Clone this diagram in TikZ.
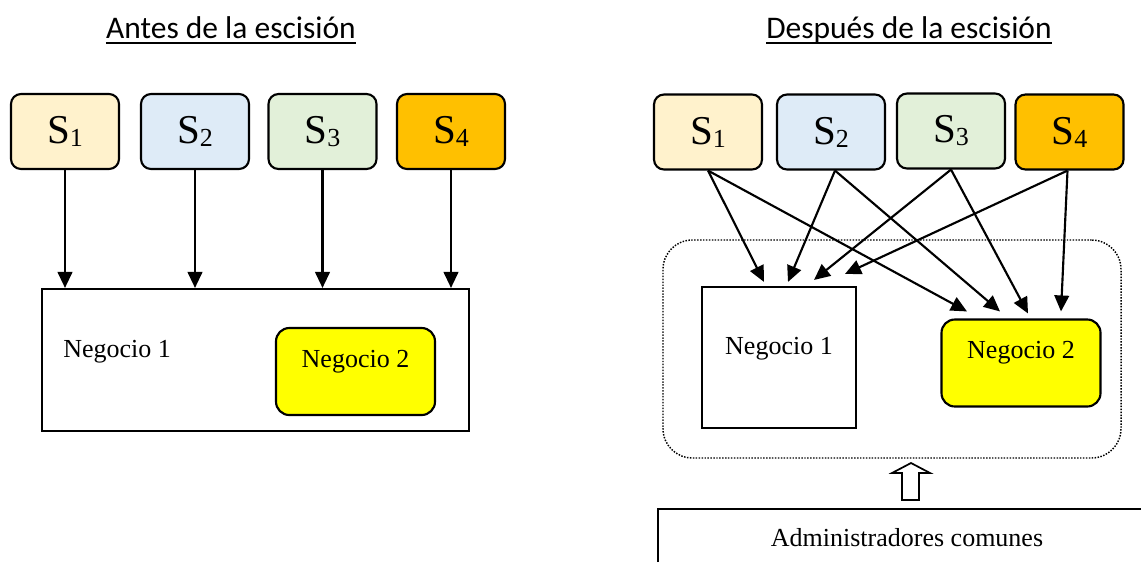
\documentclass[tikz,border=0pt]{standalone}
\usepackage{fontspec}
\setmainfont{Liberation Serif}
\newfontfamily\titlefont{Carlito}
\usetikzlibrary{arrows.meta}

\definecolor{socioa}{HTML}{FFF2CC}
\definecolor{sociob}{HTML}{DEEBF7}
\definecolor{socioc}{HTML}{E2F0D9}
\definecolor{sociod}{HTML}{FFC000}
\definecolor{amarillo}{HTML}{FFFF00}

% S con subindice
\newcommand{\soc}[1]{S\raisebox{-2.2pt}{\fontsize{19.5}{20}\selectfont #1}}

\tikzset{
  titulo/.style={anchor=base, inner sep=0pt, font=\titlefont\fontsize{23.6}{28}\selectfont},
  texto/.style={font=\fontsize{19.5}{23}\selectfont},
  socio/.style={draw, line width=1.6pt, rounded corners=7.5pt, inner sep=0pt,
    minimum width=108*\px, minimum height=75*\px, font=\fontsize{30.75}{36}\selectfont},
  caja/.style={draw, line width=1.6pt, texto},
  negocio/.style={draw, line width=1.6pt, fill=amarillo, rounded corners=10pt, texto,
    minimum width=159*\px, minimum height=87*\px, text height=18*\px, text depth=27*\px},
  flecha/.style={line width=1.6pt, -{Triangle[length=12pt, width=11pt]}}
}

\begin{document}
\begin{tikzpicture}[x=0.75pt, y=-0.75pt]
  \def \px {0.75pt}
  \useasboundingbox (0,0) rectangle (1141,562);

  % titulos
  \node[titulo] (antes) at (231,38) {Antes de la escisión};
  \node[titulo] (despues) at (909,38) {Después de la escisión};
  \draw[line width=1.6pt] ([yshift=-5*\px]antes.base west) -- ([yshift=-5*\px]antes.base east);
  \draw[line width=1.6pt] ([yshift=-5*\px]despues.base west) -- ([yshift=-5*\px]despues.base east);

  % antes: una sola sociedad
  \node[socio, fill=socioa] (ls1) at (65,131.5) {\soc{1}};
  \node[socio, fill=sociob] (ls2) at (195,131.5) {\soc{2}};
  \node[socio, fill=socioc] (ls3) at (322.5,131.5) {\soc{3}};
  \node[socio, fill=sociod] (ls4) at (451,131.5) {\soc{4}};

  \node[caja, minimum width=427*\px, minimum height=142*\px] (lsoc) at (255.5,360) {};
  \node[texto, anchor=base west, inner sep=0pt] (ln1) at (63,357) {Negocio 1};
  \node[negocio] (ln2) at (355.5,371.5) {Negocio 2};

  \foreach \s in {ls1,ls2,ls3,ls4}
    \draw[flecha] (\s.south) -- (\s.south |- lsoc.north);

  % despues: dos sociedades
  \node[socio, fill=socioa] (rs1) at (708,132) {\soc{1}};
  \node[socio, fill=sociob] (rs2) at (831,132) {\soc{2}};
  \node[socio, fill=socioc] (rs3) at (951,131) {\soc{3}};
  \node[socio, fill=sociod] (rs4) at (1069.5,132) {\soc{4}};

  \node[draw, dash pattern=on 1.1pt off 1.1pt, line width=1.1pt, rounded corners=22pt,
    minimum width=458*\px, minimum height=218*\px] (grupo) at (892,349) {};
  \node[caja, minimum width=154*\px, minimum height=141*\px,
    text height=18*\px, text depth=25*\px] (rn1) at (779,357.5) {Negocio 1};
  \node[negocio] (rn2) at (1021,363) {Negocio 2};

  \draw[flecha] (rs1.south) -- ([xshift=-15*\px, yshift=4*\px]rn1.north);
  \draw[flecha] (rs1.south) -- ([xshift=-54*\px, yshift=7*\px]rn2.north);
  \draw[flecha] ([xshift=4*\px]rs2.south) -- ([xshift=9*\px, yshift=4*\px]rn1.north);
  \draw[flecha] ([xshift=4*\px]rs2.south) -- ([xshift=-21*\px, yshift=7*\px]rn2.north);
  \draw[flecha] (rs3.south) -- ([xshift=35*\px, yshift=6*\px]rn1.north);
  \draw[flecha] (rs3.south) -- ([xshift=7*\px, yshift=5*\px]rn2.north);
  \draw[flecha] ([xshift=-2*\px]rs4.south) -- ([xshift=66*\px, yshift=12*\px]rn1.north);
  \draw[flecha] ([xshift=-2*\px]rs4.south) -- ([xshift=40*\px, yshift=7*\px]rn2.north);

  % administradores comunes
  \draw[line width=1.3pt] (911,463) -- (930,473) -- (919,473) -- (919,500)
    -- (902,500) -- (902,473) -- (892,473) -- cycle;
  \node[texto, anchor=base] (adm) at (907,546) {Administradores comunes};
  \draw[line width=1.6pt] (658,562) |- (1141,509);
\end{tikzpicture}
\end{document}
